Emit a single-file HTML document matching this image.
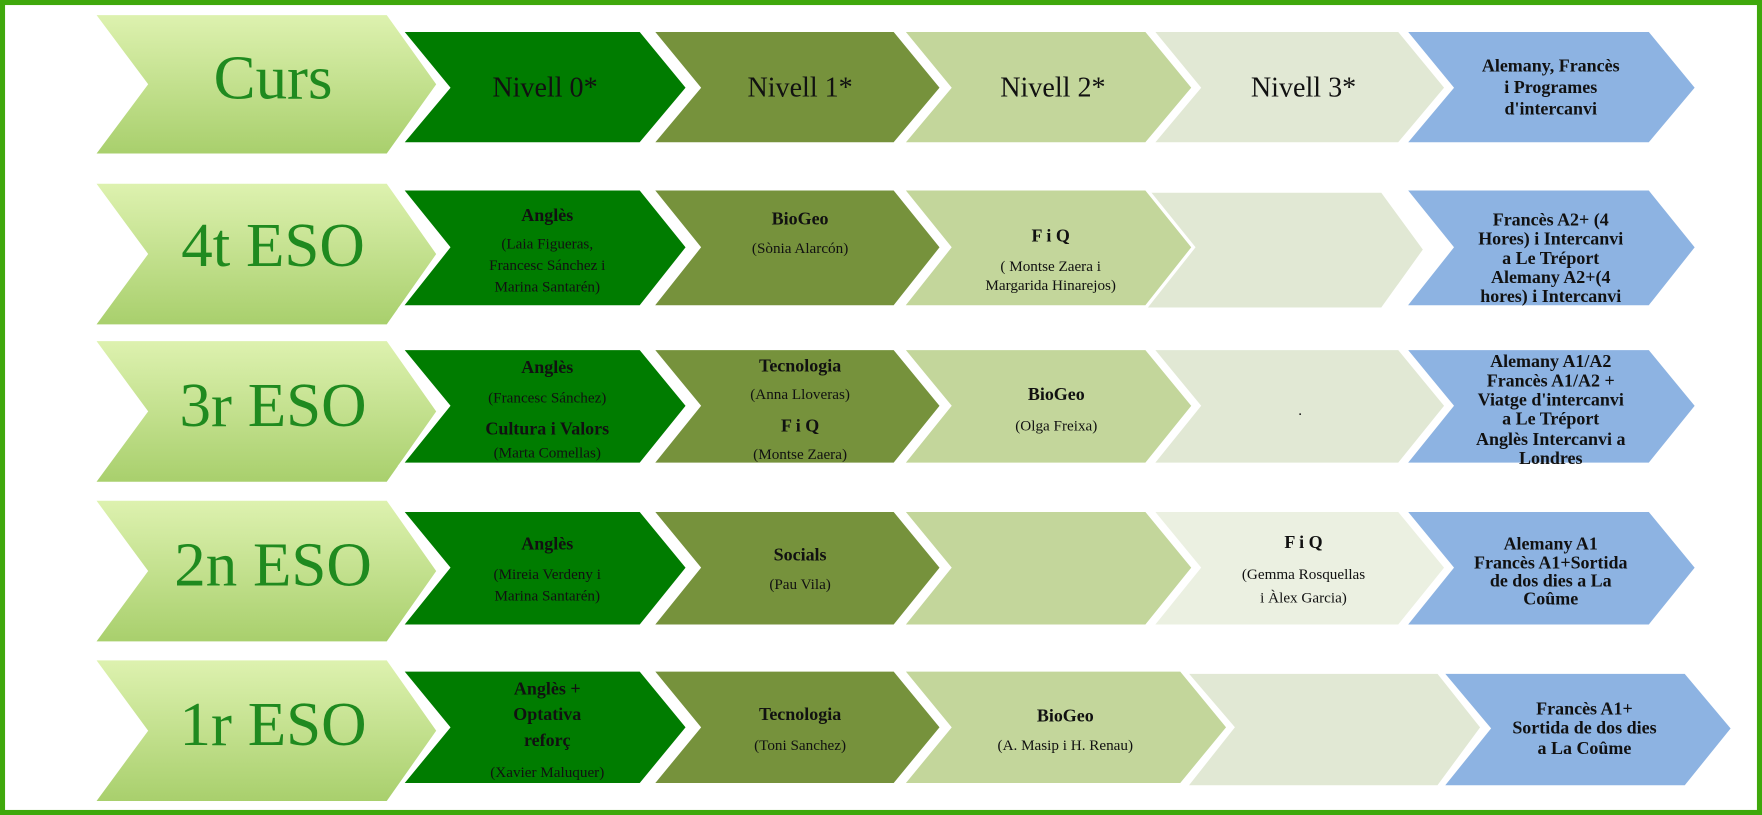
<!DOCTYPE html>
<html><head><meta charset="utf-8"><style>
html,body{margin:0;padding:0;background:#fff;overflow:hidden}
svg{display:block}
text{font-family:"Liberation Serif",serif;text-anchor:middle;dominant-baseline:middle}
.big{fill:#1f8a1f;font-size:56px}
.hd{font-size:25px;fill:#111}
.b{font-weight:bold;font-size:16px;fill:#111}
.s{font-size:13.5px;fill:#111}
#rows polygon{stroke:#fff;stroke-width:3;stroke-linejoin:miter}
</style></head><body>
<svg width="1762" height="815" viewBox="0 0 1568 725" preserveAspectRatio="none" xmlns="http://www.w3.org/2000/svg">
<defs>
<linearGradient id="gb" x1="0" y1="0" x2="0" y2="1"><stop offset="0" stop-color="#def2b0"/><stop offset="1" stop-color="#a8cf6c"/></linearGradient>
<clipPath id="c2"><rect x="1250" y="168" width="270" height="105"/></clipPath>
<clipPath id="c3"><rect x="1250" y="310" width="270" height="103"/></clipPath>
</defs>
<rect x="2" y="2" width="1564" height="721" fill="#fff" stroke="#3fa80c" stroke-width="5"/>
<g id="rows">
<polygon points="83,12 345,12 390,75 345,138 83,138 130,75" fill="url(#gb)"/>
<polygon points="357,27 570,27 612,78 570,128 357,128 399,78" fill="#007c00"/>
<polygon points="580,27 796,27 838,78 796,128 580,128 622,78" fill="#76923c"/>
<polygon points="803,27 1020,27 1062,78 1020,128 803,128 845,78" fill="#c3d69b"/>
<polygon points="1025,27 1245,27 1287,78 1245,128 1025,128 1067,78" fill="#e1e8d4"/>
<polygon points="1250,27 1468,27 1510,78 1468,128 1250,128 1292,78" fill="#8db3e2"/>
<polygon points="83,162 345,162 390,226 345,290 83,290 130,226" fill="url(#gb)"/>
<polygon points="357,168 570,168 612,220 570,273 357,273 399,220" fill="#007c00"/>
<polygon points="580,168 796,168 838,220 796,273 580,273 622,220" fill="#76923c"/>
<polygon points="1010,170 1230,170 1268,222 1230,275 1010,275" fill="#e1e8d4"/>
<polygon points="803,168 1020,168 1062,220 1020,273 803,273 845,220" fill="#c3d69b"/>
<polygon points="1250,168 1468,168 1510,220 1468,273 1250,273 1292,220" fill="#8db3e2"/>
<polygon points="83,302 345,302 390,366 345,430 83,430 130,366" fill="url(#gb)"/>
<polygon points="357,310 570,310 612,361 570,413 357,413 399,361" fill="#007c00"/>
<polygon points="580,310 796,310 838,361 796,413 580,413 622,361" fill="#76923c"/>
<polygon points="803,310 1020,310 1062,361 1020,413 803,413 845,361" fill="#c3d69b"/>
<polygon points="1025,310 1245,310 1287,361 1245,413 1025,413 1067,361" fill="#e1e8d4"/>
<polygon points="1250,310 1468,310 1510,361 1468,413 1250,413 1292,361" fill="#8db3e2"/>
<polygon points="83,444 345,444 390,508 345,572 83,572 130,508" fill="url(#gb)"/>
<polygon points="357,454 570,454 612,505 570,557 357,557 399,505" fill="#007c00"/>
<polygon points="580,454 796,454 838,505 796,557 580,557 622,505" fill="#76923c"/>
<polygon points="803,454 1020,454 1062,505 1020,557 803,557 845,505" fill="#c3d69b"/>
<polygon points="1025,454 1245,454 1287,505 1245,557 1025,557 1067,505" fill="#ebf0e1"/>
<polygon points="1250,454 1468,454 1510,505 1468,557 1250,557 1292,505" fill="#8db3e2"/>
<polygon points="83,586 345,586 390,650 345,714 83,714 130,650" fill="url(#gb)"/>
<polygon points="357,596 570,596 612,647 570,698 357,698 399,647" fill="#007c00"/>
<polygon points="580,596 796,596 838,647 796,698 580,698 622,647" fill="#76923c"/>
<polygon points="1055,598 1280,598 1319,647 1280,700 1055,700 1097,647" fill="#e1e8d4"/>
<polygon points="803,596 1051,596 1093,647 1051,698 803,698 845,647" fill="#c3d69b"/>
<polygon points="1283,598 1500,598 1542,648 1500,700 1283,700 1325,648" fill="#8db3e2"/>
</g>
<text class="big" x="243" y="75">Curs</text>
<text class="hd" x="485" y="80">Nivell 0*</text>
<text class="hd" x="712" y="80">Nivell 1*</text>
<text class="hd" x="937" y="80">Nivell 2*</text>
<text class="hd" x="1160" y="80">Nivell 3*</text>
<text class="b" x="1380" y="60">Alemany, Francès</text>
<text class="b" x="1380" y="79">i Programes</text>
<text class="b" x="1380" y="98">d'intercanvi</text>
<text class="big" x="243" y="224">4t ESO</text>
<text class="b" x="487" y="193">Anglès</text>
<text class="s" x="487" y="218">(Laia Figueras,</text>
<text class="s" x="487" y="237">Francesc Sánchez i</text>
<text class="s" x="487" y="256">Marina Santarén)</text>
<text class="b" x="712" y="196">BioGeo</text>
<text class="s" x="712" y="222">(Sònia Alarcón)</text>
<text class="b" x="935" y="211">F i Q</text>
<text class="s" x="935" y="238">( Montse Zaera i</text>
<text class="s" x="935" y="255">Margarida Hinarejos)</text>
<g clip-path="url(#c2)">
<text class="b" x="1380" y="197">Francès A2+ (4</text>
<text class="b" x="1380" y="214">Hores) i Intercanvi</text>
<text class="b" x="1380" y="231">a Le Tréport</text>
<text class="b" x="1380" y="248">Alemany A2+(4</text>
<text class="b" x="1380" y="265">hores) i Intercanvi</text>
<text class="b" x="1380" y="282">a Krefeld</text>
</g>
<text class="big" x="243" y="366">3r ESO</text>
<text class="b" x="487" y="328">Anglès</text>
<text class="s" x="487" y="355">(Francesc Sánchez)</text>
<text class="b" x="487" y="383">Cultura i Valors</text>
<text class="s" x="487" y="404">(Marta Comellas)</text>
<text class="b" x="712" y="327">Tecnologia</text>
<text class="s" x="712" y="352">(Anna Lloveras)</text>
<text class="b" x="712" y="380">F i Q</text>
<text class="s" x="712" y="405">(Montse Zaera)</text>
<text class="b" x="940" y="352">BioGeo</text>
<text class="s" x="940" y="380">(Olga Freixa)</text>
<text class="s" x="1157" y="366">.</text>
<g clip-path="url(#c3)">
<text class="b" x="1380" y="323">Alemany A1/A2</text>
<text class="b" x="1380" y="340">Francès A1/A2 +</text>
<text class="b" x="1380" y="357">Viatge d'intercanvi</text>
<text class="b" x="1380" y="374">a Le Tréport</text>
<text class="b" x="1380" y="392">Anglès Intercanvi a</text>
<text class="b" x="1380" y="409">Londres</text>
</g>
<text class="big" x="243" y="508">2n ESO</text>
<text class="b" x="487" y="485">Anglès</text>
<text class="s" x="487" y="512">(Mireia Verdeny i</text>
<text class="s" x="487" y="531">Marina Santarén)</text>
<text class="b" x="712" y="495">Socials</text>
<text class="s" x="712" y="521">(Pau Vila)</text>
<text class="b" x="1160" y="484">F i Q</text>
<text class="s" x="1160" y="512">(Gemma Rosquellas</text>
<text class="s" x="1160" y="533">i Àlex Garcia)</text>
<text class="b" x="1380" y="485">Alemany  A1</text>
<text class="b" x="1380" y="502">Francès A1+Sortida</text>
<text class="b" x="1380" y="518">de dos dies a La</text>
<text class="b" x="1380" y="534">Coûme</text>
<text class="big" x="243" y="650">1r ESO</text>
<text class="b" x="487" y="614">Anglès +</text>
<text class="b" x="487" y="637">Optativa</text>
<text class="b" x="487" y="660">reforç</text>
<text class="s" x="487" y="688">(Xavier Maluquer)</text>
<text class="b" x="712" y="637">Tecnologia</text>
<text class="s" x="712" y="664">(Toni Sanchez)</text>
<text class="b" x="948" y="638">BioGeo</text>
<text class="s" x="948" y="664">(A. Masip i H. Renau)</text>
<text class="b" x="1410" y="632">Francès A1+</text>
<text class="b" x="1410" y="649">Sortida de dos dies</text>
<text class="b" x="1410" y="667">a La Coûme</text>
</svg>
</body></html>
